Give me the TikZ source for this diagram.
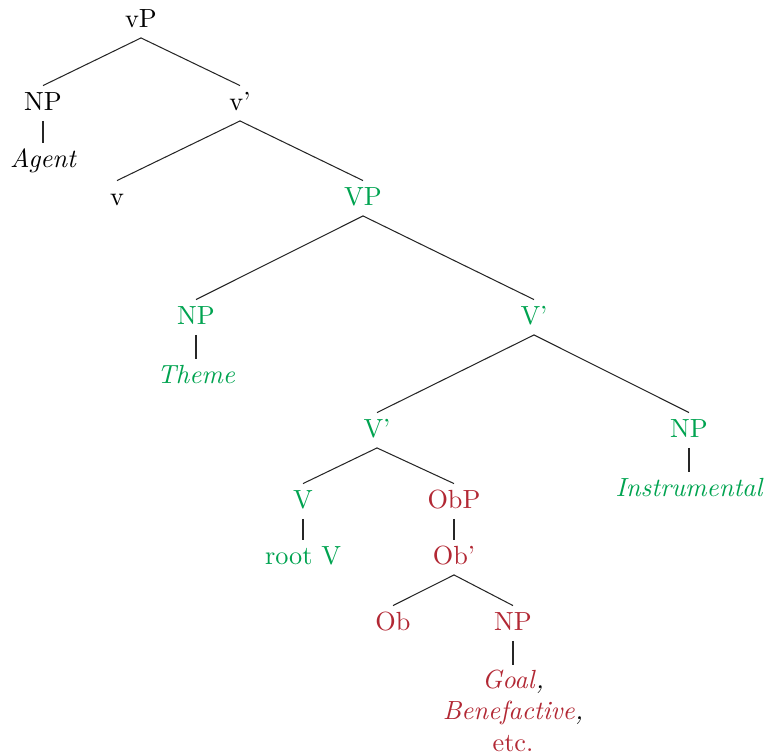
\documentclass[tikz,border=0pt]{standalone}
\usepackage{xcolor}
\definecolor{tgreen}{RGB}{0,163,80}
\definecolor{tred}{RGB}{178,40,52}
\begin{document}
\begin{tikzpicture}[x=0.3846pt,y=-0.3846pt,
  lab/.style={anchor=base, inner sep=0pt, text height=9.2pt, text depth=4pt, font=\fontsize{10.1}{12.1}\selectfont},
  gr/.style={lab, text=tgreen},
  rd/.style={lab, text=tred},
  edge/.style={draw=black!85, line width=0.4pt}]
\useasboundingbox (0,0) rectangle (766,755);
% nodes
\node[lab] (vP) at (141,27) {vP};
\node[lab] (NPa) at (43,110) {NP};
\node[lab] (agent) at (43,167) {\itshape Agent};
\node[lab] (vbar) at (240,110) {v'};
\node[lab] (v) at (117,205) {v};
\node[gr] (VP) at (363,205) {VP};
\node[gr] (NPt) at (196,324) {NP};
\node[gr] (theme) at (196,383) {\itshape Theme};
\node[gr] (Vb1) at (534,324) {V'};
\node[gr] (Vb2) at (377,437) {V'};
\node[gr] (NPi) at (689,437) {NP};
\node[gr] (instr) at (689,496) {\itshape Instrumental};
\node[gr] (V) at (303,508) {V};
\node[gr] (rootV) at (303,564) {root V};
\node[rd] (ObP) at (454,508) {ObP};
\node[rd] (Obbar) at (454,564) {Ob'};
\node[rd] (Ob) at (393,630) {Ob};
\node[rd] (NPg) at (513,630) {NP};
\node[anchor=north, inner sep=0pt, align=center, text=tred, font=\fontsize{10.1}{12.1}\selectfont]
  (goal) at (513,669.2) {\itshape Goal\/\textcolor{black}{,}\\ \itshape Benefactive\/\textcolor{black}{,}\\ etc.};
% edges
\draw[edge] (vP.south) -- (NPa.north);
\draw[edge] (vP.south) -- (vbar.north);
\draw[edge] (NPa.south) -- (agent.north);
\draw[edge] (vbar.south) -- (v.north);
\draw[edge] (vbar.south) -- (VP.north);
\draw[edge] (VP.south) -- (NPt.north);
\draw[edge] (VP.south) -- (Vb1.north);
\draw[edge] (NPt.south) -- (theme.north);
\draw[edge] (Vb1.south) -- (Vb2.north);
\draw[edge] (Vb1.south) -- (NPi.north);
\draw[edge] (NPi.south) -- (instr.north);
\draw[edge] (Vb2.south) -- (V.north);
\draw[edge] (Vb2.south) -- (ObP.north);
\draw[edge] (V.south) -- (rootV.north);
\draw[edge] (ObP.south) -- (Obbar.north);
\draw[edge] (Obbar.south) -- (Ob.north);
\draw[edge] (Obbar.south) -- (NPg.north);
\draw[edge] (NPg.south) -- ([yshift=1.5pt]goal.north);
\end{tikzpicture}
\end{document}
